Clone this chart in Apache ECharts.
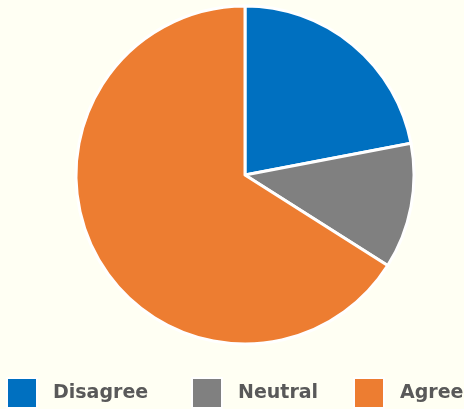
<!DOCTYPE html>
<html><head><meta charset="utf-8">
<script src="https://cdn.jsdelivr.net/npm/echarts@6/dist/echarts.min.js"></script>
<style>html,body{margin:0;padding:0;background:#FFFFF3;}#c{width:464px;height:409px;}</style>
</head><body><div id="c"></div>
<script>
const categories = ['Disagree', 'Neutral', 'Agree'];
const values = [22, 12, 66];
const colors = ['#0070C0', '#808080', '#ED7D31'];
const legendLefts = [6, 191, 353];

const chart = echarts.init(document.getElementById('c'), null, {renderer: 'canvas'});
const legends = categories.map((name, i) => ({
  data: [name],
  left: legendLefts[i],
  top: 377,
  padding: 0,
  icon: 'rect',
  itemWidth: 30,
  itemHeight: 30,
  selectedMode: false,
  textStyle: {color: '#595959', fontFamily: 'DejaVu Sans', fontWeight: 'bold', fontSize: 19, padding: [0, 0, 0, 11]}
}));
chart.setOption({
  backgroundColor: '#FFFFF3',
  animation: false,
  color: colors,
  legend: legends,
  series: [{
    type: 'pie',
    center: [245, 175],
    radius: 169,
    startAngle: 90,
    clockwise: true,
    silent: true,
    label: {show: false},
    labelLine: {show: false},
    itemStyle: {borderColor: '#FFFFFF', borderWidth: 3},
    data: categories.map((name, i) => ({name, value: values[i]}))
  }]
});
</script></body></html>
